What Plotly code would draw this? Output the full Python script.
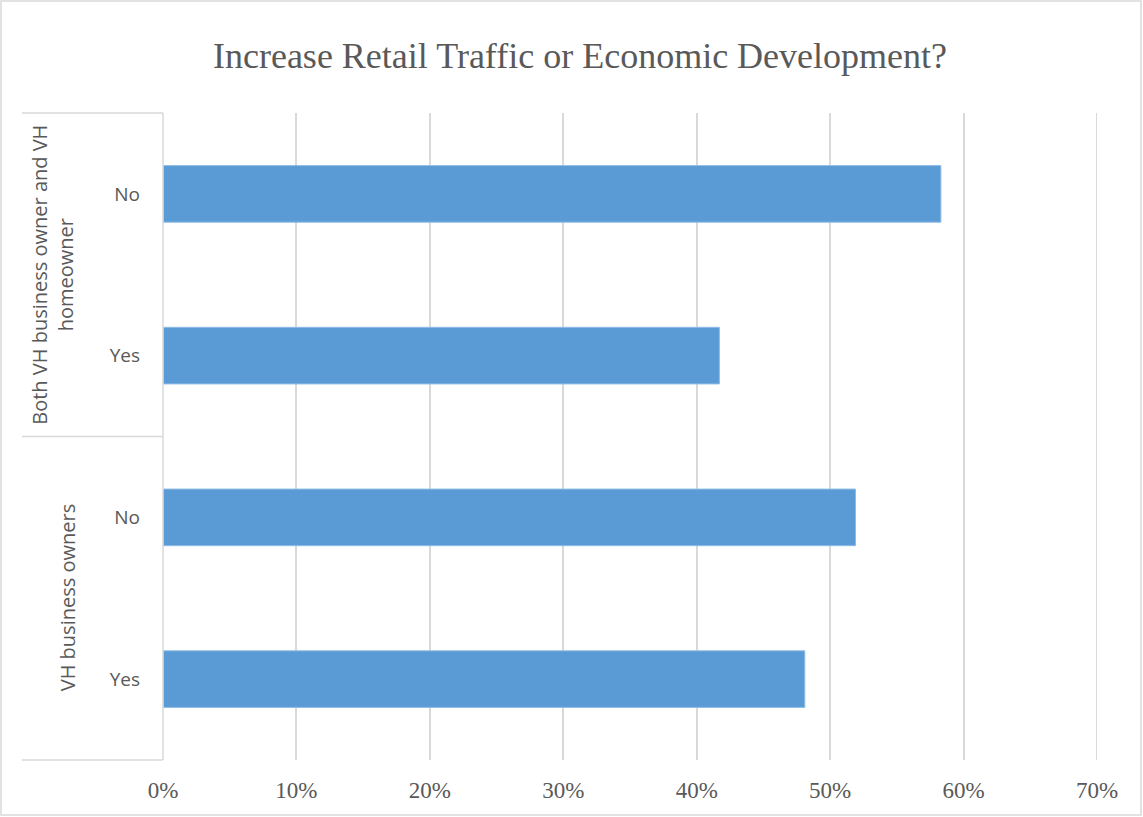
import plotly.graph_objects as go

groups = ["Both VH business owner and VH<br>homeowner", "VH business owners"]
answers = ["No", "Yes"]
values = [0.583, 0.417, 0.519, 0.481]
cat_ids = ["Both|No", "Both|Yes", "VH|No", "VH|Yes"]
cat_labels = ["No", "Yes", "No", "Yes"]
x_ticks = [0, 0.1, 0.2, 0.3, 0.4, 0.5, 0.6, 0.7]
x_ticklabels = ["0%", "10%", "20%", "30%", "40%", "50%", "60%", "70%"]

W, H = 1143, 817
L, R, T, B = 163, 46, 113, 57
pw, ph = W - L - R, H - T - B

def px2x(px):
    return (px - L) / pw

def py2y(py):
    return (H - B - py) / ph

fig = go.Figure()
fig.add_trace(go.Bar(
    x=values, y=cat_ids, orientation="h",
    marker=dict(color="#5B9BD5", line=dict(color="#8FBCE6", width=1)),
    hoverinfo="x+y",
))

grey = "#595959"
line_c = "#D9D9D9"

fig.update_layout(
    width=W, height=H,
    margin=dict(l=L, r=R, t=T, b=B),
    paper_bgcolor="white", plot_bgcolor="white",
    bargap=0.65,
    showlegend=False,
    title=dict(text="Increase Retail Traffic or Economic Development?",
               x=580 / W, xref="container", xanchor="center",
               y=1 - 55 / H, yref="container", yanchor="middle",
               font=dict(family="Liberation Serif, serif", size=36, color=grey)),
    xaxis=dict(range=[0, 0.7], tickvals=x_ticks, ticktext=x_ticklabels,
               showgrid=True, gridcolor=line_c, gridwidth=2,
               zeroline=False, showline=False, ticks="", ticklabelstandoff=14,
               tickfont=dict(family="Liberation Serif, serif", size=23, color=grey),
               fixedrange=True),
    yaxis=dict(categoryorder="array", categoryarray=cat_ids,
               tickvals=cat_ids, ticktext=cat_labels,
               autorange="reversed", showgrid=False, zeroline=False,
               showline=False, ticks="", ticklabelstandoff=22,
               tickfont=dict(family="Open Sans, sans-serif", size=19, color=grey)),
)

shapes = []
# outer border
shapes.append(dict(type="rect", xref="paper", yref="paper",
                   x0=px2x(1), x1=px2x(W - 2), y0=py2y(1), y1=py2y(H - 2),
                   line=dict(color=line_c, width=1.5), fillcolor="rgba(0,0,0,0)", layer="below"))
# axis vertical line
shapes.append(dict(type="line", xref="paper", yref="paper", x0=0, x1=0, y0=0, y1=1,
                   line=dict(color=line_c, width=1.5)))
# last gridline at range edge
shapes.append(dict(type="line", xref="x", yref="paper", x0=x_ticks[-1], x1=x_ticks[-1],
                   y0=0, y1=1, line=dict(color=line_c, width=2), layer="below"))
# group divider lines
for yy in [0, 0.5, 1]:
    shapes.append(dict(type="line", xref="paper", yref="paper",
                       x0=px2x(22), x1=0, y0=yy, y1=yy,
                       line=dict(color=line_c, width=1.5)))
fig.update_layout(shapes=shapes)

fig.add_annotation(text=groups[0], xref="paper", yref="paper",
                   x=px2x(53), y=0.75, textangle=-90, showarrow=False,
                   xanchor="center", yanchor="middle",
                   font=dict(family="Open Sans, sans-serif", size=20, color=grey))
fig.add_annotation(text=groups[1], xref="paper", yref="paper",
                   x=px2x(67), y=0.25, textangle=-90, showarrow=False,
                   xanchor="center", yanchor="middle",
                   font=dict(family="Open Sans, sans-serif", size=20, color=grey))

fig.write_html("out.html")
